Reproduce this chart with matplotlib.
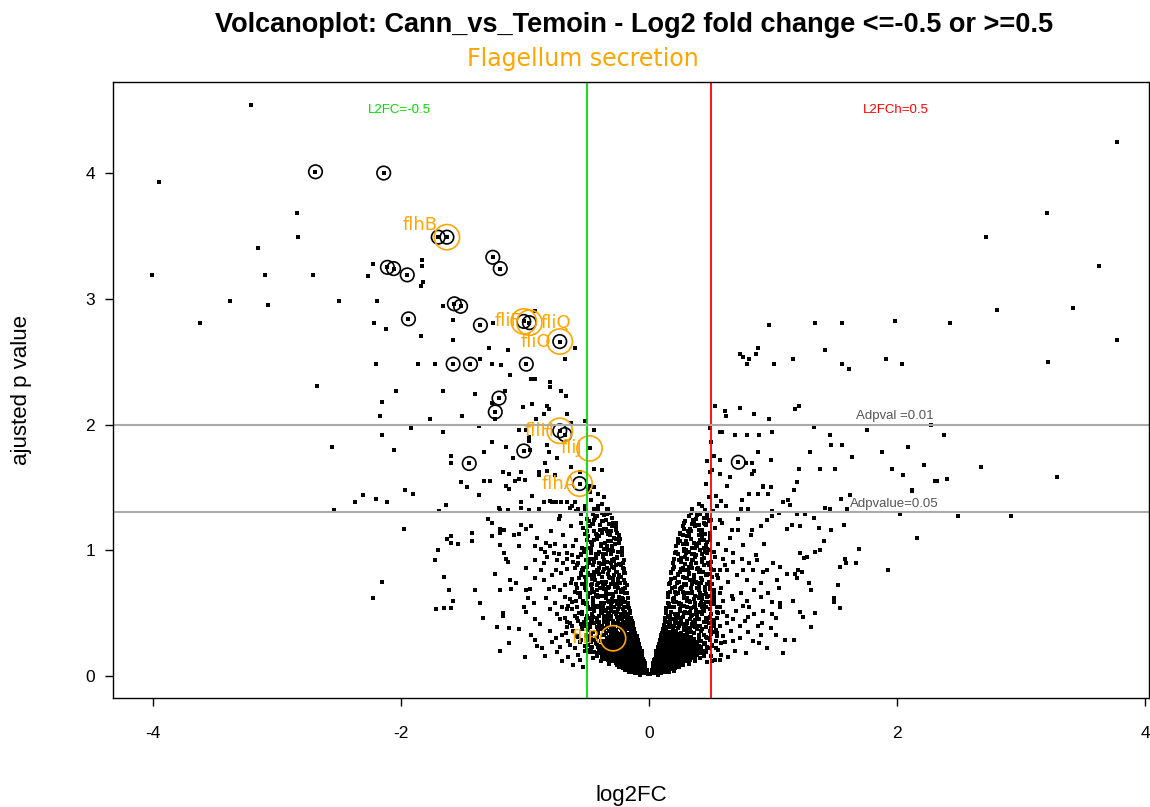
import numpy as np
import matplotlib.pyplot as plt

plt.rcParams['axes.unicode_minus'] = False

# sparse genes on the down-regulated side (log2FC, adjusted p as -log10)
left_sparse = [
    (-3.21, 4.54), (-3.95, 3.93), (-2.69, 4.01), (-2.14, 4.00), (-2.84, 3.68), (-2.83, 3.49),
    (-3.15, 3.40), (-1.70, 3.49), (-1.63, 3.49), (-1.26, 3.33), (-1.20, 3.24), (-2.23, 3.28),
    (-2.11, 3.25), (-2.06, 3.24), (-1.95, 3.19), (-1.83, 3.31), (-1.83, 3.26), (-1.82, 3.13),
    (-1.84, 3.10), (-4.01, 3.19), (-3.10, 3.19), (-2.71, 3.19), (-2.27, 3.18), (-3.38, 2.98),
    (-3.07, 2.95), (-2.50, 2.98), (-2.19, 2.98), (-1.66, 2.94), (-1.57, 2.96), (-1.52, 2.94),
    (-3.62, 2.81), (-2.22, 2.81), (-2.12, 2.76), (-1.94, 2.84), (-1.58, 2.83), (-1.36, 2.79),
    (-1.26, 2.81), (-1.84, 2.70), (-1.58, 2.67), (-1.29, 2.61), (-1.14, 2.59), (-2.20, 2.48),
    (-1.86, 2.48), (-1.73, 2.48), (-1.58, 2.48), (-1.44, 2.48), (-1.36, 2.52), (-1.27, 2.48),
    (-1.19, 2.47), (-1.12, 2.39), (-1.01, 2.82), (-0.965, 2.81), (-0.92, 2.90), (-0.72, 2.66),
    (-0.60, 2.61), (-0.68, 2.52), (-0.99, 2.48), (-0.95, 2.36), (-0.92, 2.36), (-0.80, 2.34),
    (-0.80, 2.30), (-1.66, 2.27), (-1.40, 2.24), (-1.16, 2.27), (-0.71, 2.27), (-0.67, 2.23),
    (-1.21, 2.21), (-1.24, 2.10), (-1.27, 2.17), (-1.02, 2.14), (-0.94, 2.16), (-0.82, 2.15),
    (-0.81, 2.12), (-1.51, 2.07), (-1.24, 2.04), (-0.85, 2.08), (-0.91, 2.04), (-0.66, 2.08),
    (-0.52, 2.03), (-1.77, 2.04), (-1.92, 1.97), (-1.66, 1.94), (-1.37, 1.99), (-1.05, 1.96),
    (-0.99, 1.96), (-0.97, 1.90), (-0.97, 1.87), (-0.72, 1.95), (-0.68, 1.92), (-0.63, 2.01),
    (-0.44, 1.96), (-1.27, 1.86), (-1.15, 1.82), (-1.01, 1.79), (-0.96, 1.80), (-0.82, 1.84),
    (-0.81, 1.78), (-0.74, 1.73), (-1.33, 1.78), (-1.60, 1.75), (-1.60, 1.69), (-1.45, 1.69),
    (-1.10, 1.73), (-0.84, 1.69), (-0.48, 1.81), (-1.18, 1.62), (-1.13, 1.61), (-1.03, 1.62),
    (-0.89, 1.62), (-0.89, 1.60), (-0.82, 1.63), (-0.76, 1.60), (-0.63, 1.66), (-0.56, 1.62),
    (-0.44, 1.65), (-0.38, 1.64), (-1.52, 1.54), (-1.33, 1.55), (-1.28, 1.55), (-1.47, 1.50),
    (-1.37, 1.44), (-1.97, 1.48), (-1.90, 1.45), (-1.15, 1.51), (-1.13, 1.49), (-1.08, 1.55),
    (-1.05, 1.57), (-1.00, 1.56), (-0.56, 1.53), (-0.48, 1.51), (-0.44, 1.50), (-0.48, 1.46),
    (-0.94, 1.43), (-0.85, 1.38), (-0.80, 1.39), (-0.78, 1.38), (-0.75, 1.38), (-0.71, 1.38),
    (-0.66, 1.38), (-0.64, 1.34), (-0.62, 1.35), (-0.60, 1.38), (-0.57, 1.33), (-0.59, 1.31),
    (-0.52, 1.33), (-0.44, 1.33), (-0.41, 1.33), (-0.38, 1.30), (-0.34, 1.33), (-1.69, 1.31),
    (-1.64, 1.36), (-1.21, 1.34), (-1.20, 1.32), (-1.14, 1.32), (-1.03, 1.34), (-1.03, 1.38),
    (-0.97, 1.32), (-0.89, 1.33), (-2.68, 2.31), (-2.04, 2.27), (-2.15, 2.18), (-2.17, 2.07),
    (-2.15, 1.92), (-2.56, 1.82), (-2.06, 1.80), (-2.31, 1.44), (-2.20, 1.41), (-2.11, 1.38),
    (-2.37, 1.38), (-2.54, 1.32), (-1.98, 1.17), (-2.15, 0.75), (-2.23, 0.62),
    (-1.30, 1.25), (-1.27, 1.22), (-1.03, 1.20), (-0.99, 1.17), (-0.95, 1.19), (-0.73, 1.25),
    (-0.72, 1.27), (-1.63, 1.09), (-1.60, 1.11), (-1.60, 1.06), (-1.54, 1.05), (-1.43, 1.14),
    (-1.43, 1.07), (-1.20, 1.14), (-1.20, 1.17), (-1.17, 1.16), (-1.27, 1.11), (-1.09, 1.12),
    (-1.05, 1.13), (-1.70, 1.00), (-1.73, 0.92), (-1.20, 1.04), (-1.17, 0.98), (-1.05, 1.03),
    (-1.14, 0.91), (-1.15, 0.93), (-0.92, 1.03), (-0.87, 1.01), (-0.83, 1.06), (-0.80, 1.03),
    (-0.76, 1.05), (-0.68, 1.03), (-0.61, 1.03), (-0.84, 0.99), (-0.77, 0.98), (-0.66, 0.98),
    (-0.62, 0.96), (-0.55, 0.97), (-0.99, 0.86), (-0.92, 0.92), (-0.85, 0.90), (-0.74, 0.92),
    (-0.75, 0.84), (-0.69, 0.90), (-0.66, 0.85), (-0.61, 0.91), (-0.58, 0.88), (-0.55, 0.82),
    (-0.50, 0.87), (-1.65, 0.79), (-1.61, 0.68), (-1.40, 0.68), (-1.58, 0.60), (-1.72, 0.53),
    (-1.65, 0.54), (-1.60, 0.54), (-1.24, 0.81), (-1.20, 0.68), (-1.12, 0.76), (-1.07, 0.74),
    (-1.11, 0.69), (-0.99, 0.68), (-0.96, 0.69), (-0.92, 0.78), (-0.85, 0.76), (-0.81, 0.69),
    (-0.77, 0.71), (-0.72, 0.68), (-0.68, 0.72), (-0.62, 0.77), (-0.58, 0.70), (-0.54, 0.73),
    (-0.52, 0.79), (-0.51, 0.68), (-1.36, 0.58), (-1.34, 0.46), (-1.18, 0.50), (-1.18, 0.48),
    (-1.23, 0.39), (-1.13, 0.38), (-1.05, 0.37), (-1.01, 0.55), (-0.99, 0.51), (-0.92, 0.45),
    (-0.80, 0.53), (-0.74, 0.49), (-0.70, 0.55), (-0.66, 0.43), (-0.62, 0.53), (-0.58, 0.46),
    (-0.54, 0.50), (-0.51, 0.41), (-1.20, 0.20), (-1.13, 0.26), (-1.00, 0.15), (-0.92, 0.29),
    (-0.90, 0.24), (-0.84, 0.16), (-0.78, 0.27), (-0.74, 0.19), (-0.72, 0.23), (-0.65, 0.15),
    (-0.60, 0.22), (-0.55, 0.29), (-0.53, 0.07), (-0.57, 0.17),
]

# sparse genes on the up-regulated side
right_sparse = [
    (3.77, 4.25), (3.21, 3.68), (2.72, 3.49), (3.63, 3.26), (2.81, 2.91), (3.42, 2.93),
    (0.97, 2.79), (1.34, 2.81), (1.56, 2.81), (1.98, 2.82), (2.43, 2.81), (3.77, 2.67),
    (0.73, 2.56), (0.76, 2.54), (0.79, 2.48), (0.81, 2.52), (0.86, 2.56), (0.88, 2.61),
    (1.01, 2.48), (1.16, 2.52), (1.42, 2.59), (1.56, 2.48), (1.61, 2.44), (1.91, 2.52),
    (2.04, 2.48), (3.22, 2.50), (0.53, 2.15), (0.61, 2.11), (0.62, 2.07), (0.73, 2.13),
    (0.85, 2.08), (0.97, 2.04), (1.21, 2.15), (1.18, 2.12), (0.57, 1.94), (0.59, 1.94),
    (0.69, 1.92), (0.79, 1.92), (0.89, 1.92), (0.99, 1.94), (1.33, 1.98), (1.46, 1.92),
    (1.76, 1.96), (2.27, 2.00), (2.38, 1.92), (0.72, 1.70), (0.52, 1.75), (0.57, 1.72),
    (0.51, 1.64), (0.78, 1.69), (0.83, 1.69), (0.85, 1.63), (0.83, 1.61), (0.98, 1.72),
    (0.88, 1.78), (1.30, 1.78), (1.47, 1.84), (1.56, 1.84), (1.21, 1.65), (1.38, 1.65),
    (1.50, 1.65), (1.64, 1.74), (1.88, 1.78), (2.09, 1.82), (1.96, 1.65), (2.22, 1.68),
    (2.05, 1.60), (2.31, 1.55), (2.40, 1.57), (2.68, 1.66), (3.29, 1.58), (2.12, 1.48),
    (1.19, 1.54), (1.17, 1.48), (0.92, 1.50), (0.98, 1.50), (0.88, 1.45), (0.81, 1.45),
    (0.63, 1.51), (0.65, 1.58), (0.54, 1.43), (0.58, 1.39), (0.55, 1.35), (0.62, 1.35),
    (0.75, 1.40), (0.74, 1.33), (0.80, 1.33), (1.12, 1.40), (1.14, 1.36), (0.99, 1.31),
    (1.05, 1.30), (1.62, 1.44), (1.55, 1.41), (1.60, 1.33), (1.42, 1.34), (1.46, 1.33),
    (2.49, 1.27), (2.92, 1.27), (2.16, 1.10), (2.02, 1.29), (1.93, 0.84), (1.69, 1.01),
    (1.67, 0.90), (1.59, 0.90), (1.57, 1.20), (1.47, 1.16), (1.37, 1.18), (1.33, 1.26),
    (1.26, 1.29), (1.19, 1.29), (2.05, 1.60), (2.32, 1.55), (2.12, 1.47), (0.57, 1.61),
    (0.83, 1.61), (0.96, 1.45), (0.92, 1.51), (1.08, 1.38), (0.57, 1.24), (0.67, 1.16),
    (0.72, 1.16), (0.83, 1.16), (0.90, 1.19), (0.95, 1.24), (0.99, 1.27), (1.11, 1.17),
    (1.15, 1.20), (1.22, 1.19), (1.41, 1.07), (1.54, 0.87), (1.58, 0.93), (1.38, 1.00),
    (1.34, 0.99), (1.22, 0.98), (1.27, 0.95), (1.25, 0.94), (1.20, 0.84), (1.23, 0.83),
    (1.18, 0.81), (1.06, 0.87), (0.95, 0.84), (0.87, 0.92), (0.81, 0.90), (0.75, 0.93),
    (0.68, 0.91), (0.60, 0.93), (0.57, 0.84), (0.63, 0.84), (0.76, 0.84), (0.84, 0.84),
    (0.92, 0.83), (1.03, 0.76), (1.11, 0.81), (1.19, 0.78), (1.29, 0.74), (1.31, 0.68),
    (1.34, 0.50), (1.22, 0.51), (1.24, 0.47), (1.16, 0.60), (1.06, 0.55), (0.99, 0.49),
    (0.91, 0.42), (0.85, 0.49), (0.80, 0.47), (0.73, 0.40), (0.68, 0.45), (0.63, 0.42),
    (0.60, 0.32), (0.68, 0.28), (0.80, 0.35), (0.90, 0.33), (0.89, 0.26), (1.02, 0.33),
    (1.10, 0.29), (1.17, 0.29), (1.31, 0.39), (1.49, 0.62), (1.49, 0.59), (1.54, 0.54),
    (1.52, 0.72), (0.68, 0.61), (0.79, 0.60), (0.76, 0.56), (0.90, 0.63), (0.99, 0.59),
    (1.06, 0.58), (0.57, 0.55), (0.60, 0.51), (0.56, 0.21), (0.57, 0.13), (0.48, 1.42),
    (0.46, 1.53), (0.49, 1.62), (0.47, 1.71), (0.50, 1.86), (0.49, 1.97),
]

# dense core near log2FC = 0, left arm
core_left = [
    (-0.02, 0.02), (-0.04, 0.035), (-0.06, 0.05), (-0.09, 0.04), (-0.12, 0.065), (-0.15, 0.05),
    (-0.18, 0.085), (-0.21, 0.07), (-0.24, 0.095), (-0.07, 0.08), (-0.105, 0.092), (-0.13, 0.10),
    (-0.165, 0.03), (-0.27, 0.10), (-0.03, 0.06), (-0.05, 0.09), (-0.11, 0.025), (-0.19, 0.045),
    (-0.04, 0.12), (-0.06, 0.155), (-0.085, 0.18), (-0.10, 0.13), (-0.12, 0.172), (-0.14, 0.11),
    (-0.16, 0.195), (-0.18, 0.14), (-0.205, 0.12), (-0.22, 0.18), (-0.245, 0.15), (-0.26, 0.11),
    (-0.28, 0.19), (-0.30, 0.16), (-0.33, 0.13), (-0.36, 0.18), (-0.39, 0.12), (-0.42, 0.17),
    (-0.45, 0.14), (-0.09, 0.20), (-0.135, 0.145), (-0.17, 0.16), (-0.21, 0.20), (-0.25, 0.13),
    (-0.29, 0.125), (-0.34, 0.20), (-0.38, 0.15), (-0.48, 0.19), (-0.07, 0.11), (-0.115, 0.16),
    (-0.07, 0.22), (-0.09, 0.26), (-0.11, 0.29), (-0.13, 0.23), (-0.15, 0.27), (-0.17, 0.21),
    (-0.19, 0.25), (-0.21, 0.29), (-0.23, 0.23), (-0.25, 0.27), (-0.27, 0.21), (-0.29, 0.26),
    (-0.31, 0.29), (-0.33, 0.22), (-0.35, 0.25), (-0.37, 0.28), (-0.40, 0.21), (-0.43, 0.26),
    (-0.46, 0.23), (-0.49, 0.29), (-0.52, 0.24), (-0.56, 0.27), (-0.12, 0.25), (-0.16, 0.30),
    (-0.20, 0.22), (-0.24, 0.30), (-0.28, 0.24), (-0.32, 0.27), (-0.38, 0.23), (-0.44, 0.29),
    (-0.50, 0.21), (-0.60, 0.22), (-0.65, 0.28), (-0.10, 0.32), (-0.12, 0.36), (-0.14, 0.39),
    (-0.16, 0.33), (-0.18, 0.37), (-0.20, 0.31), (-0.22, 0.35), (-0.24, 0.39), (-0.26, 0.34),
    (-0.28, 0.38), (-0.30, 0.32), (-0.32, 0.36), (-0.34, 0.40), (-0.36, 0.33), (-0.39, 0.37),
    (-0.42, 0.31), (-0.45, 0.35), (-0.48, 0.39), (-0.51, 0.33), (-0.54, 0.37), (-0.57, 0.31),
    (-0.61, 0.36), (-0.66, 0.39), (-0.70, 0.33), (-0.17, 0.40), (-0.23, 0.32), (-0.29, 0.35),
    (-0.35, 0.38), (-0.41, 0.34), (-0.47, 0.32), (-0.53, 0.40), (-0.13, 0.42), (-0.15, 0.46),
    (-0.17, 0.49), (-0.19, 0.43), (-0.21, 0.47), (-0.23, 0.41), (-0.25, 0.45), (-0.27, 0.49),
    (-0.29, 0.44), (-0.31, 0.48), (-0.33, 0.42), (-0.36, 0.46), (-0.39, 0.50), (-0.42, 0.43),
    (-0.45, 0.47), (-0.48, 0.41), (-0.51, 0.45), (-0.54, 0.49), (-0.57, 0.44), (-0.60, 0.48),
    (-0.64, 0.42), (-0.68, 0.46), (-0.20, 0.50), (-0.26, 0.42), (-0.34, 0.45), (-0.40, 0.48),
    (-0.47, 0.44), (-0.55, 0.41), (-0.15, 0.52), (-0.17, 0.56), (-0.19, 0.59), (-0.21, 0.53),
    (-0.23, 0.57), (-0.26, 0.51), (-0.28, 0.55), (-0.30, 0.59), (-0.33, 0.54), (-0.36, 0.58),
    (-0.39, 0.52), (-0.42, 0.56), (-0.45, 0.60), (-0.48, 0.53), (-0.51, 0.57), (-0.54, 0.51),
    (-0.58, 0.55), (-0.62, 0.59), (-0.66, 0.53), (-0.24, 0.60), (-0.31, 0.52), (-0.40, 0.55),
    (-0.50, 0.58), (-0.17, 0.62), (-0.19, 0.66), (-0.21, 0.69), (-0.24, 0.63), (-0.27, 0.67),
    (-0.30, 0.61), (-0.33, 0.65), (-0.36, 0.69), (-0.39, 0.64), (-0.42, 0.68), (-0.45, 0.62),
    (-0.48, 0.66), (-0.52, 0.70), (-0.56, 0.63), (-0.60, 0.67), (-0.64, 0.61), (-0.25, 0.70),
    (-0.35, 0.62), (-0.44, 0.67), (-0.18, 0.72), (-0.20, 0.76), (-0.23, 0.79), (-0.26, 0.73),
    (-0.29, 0.77), (-0.32, 0.71), (-0.35, 0.75), (-0.38, 0.79), (-0.41, 0.74), (-0.44, 0.78),
    (-0.47, 0.72), (-0.51, 0.76), (-0.55, 0.80), (-0.59, 0.73), (-0.28, 0.80), (-0.37, 0.72),
    (-0.46, 0.77), (-0.19, 0.82), (-0.21, 0.86), (-0.24, 0.89), (-0.27, 0.83), (-0.30, 0.87),
    (-0.33, 0.81), (-0.36, 0.85), (-0.39, 0.89), (-0.42, 0.84), (-0.45, 0.88), (-0.49, 0.82),
    (-0.53, 0.86), (-0.57, 0.90), (-0.31, 0.90), (-0.40, 0.81), (-0.20, 0.92), (-0.22, 0.96),
    (-0.25, 0.99), (-0.28, 0.93), (-0.31, 0.97), (-0.34, 0.91), (-0.37, 0.95), (-0.40, 0.99),
    (-0.43, 0.94), (-0.47, 0.98), (-0.51, 0.92), (-0.55, 0.96), (-0.33, 1.00), (-0.22, 1.02),
    (-0.24, 1.06), (-0.27, 1.09), (-0.30, 1.03), (-0.33, 1.07), (-0.36, 1.01), (-0.39, 1.05),
    (-0.42, 1.09), (-0.46, 1.04), (-0.50, 1.08), (-0.54, 1.02), (-0.24, 1.12), (-0.27, 1.16),
    (-0.30, 1.19), (-0.33, 1.13), (-0.36, 1.17), (-0.40, 1.11), (-0.44, 1.15), (-0.48, 1.19),
    (-0.52, 1.13), (-0.27, 1.22), (-0.30, 1.26), (-0.34, 1.29), (-0.38, 1.23), (-0.42, 1.27),
    (-0.46, 1.21), (-0.50, 1.25), (-0.55, 1.29), (-0.33, 1.33), (-0.38, 1.37), (-0.43, 1.32),
    (-0.47, 1.40), (-0.52, 1.35), (-0.41, 1.45), (-0.49, 1.48), (-0.36, 1.42),
]

core_left2 = [
    (-0.01, 0.015), (-0.04, 0.026), (-0.07, 0.010), (-0.10, 0.021),
    (-0.02, 0.045), (-0.05, 0.056), (-0.085, 0.036), (-0.12, 0.051), (-0.155, 0.033), (-0.19, 0.054),
    (-0.03, 0.075), (-0.065, 0.086), (-0.10, 0.066), (-0.135, 0.081), (-0.17, 0.063), (-0.205, 0.084),
    (-0.24, 0.071), (-0.035, 0.105), (-0.07, 0.116), (-0.105, 0.096), (-0.14, 0.111), (-0.175, 0.093),
    (-0.21, 0.114), (-0.245, 0.101), (-0.28, 0.118), (-0.32, 0.095), (-0.045, 0.135), (-0.08, 0.146),
    (-0.115, 0.126), (-0.15, 0.141), (-0.185, 0.123), (-0.22, 0.144), (-0.255, 0.131), (-0.29, 0.148),
    (-0.325, 0.125), (-0.36, 0.138), (-0.055, 0.165), (-0.09, 0.176), (-0.125, 0.156), (-0.16, 0.171),
    (-0.195, 0.153), (-0.23, 0.174), (-0.265, 0.161), (-0.30, 0.178), (-0.34, 0.155), (-0.38, 0.168),
    (-0.42, 0.159), (-0.06, 0.195), (-0.095, 0.206), (-0.13, 0.186), (-0.165, 0.201), (-0.20, 0.183),
    (-0.235, 0.204), (-0.27, 0.191), (-0.31, 0.208), (-0.35, 0.185), (-0.39, 0.198), (-0.44, 0.189),
    (-0.07, 0.225), (-0.105, 0.236), (-0.14, 0.216), (-0.175, 0.231), (-0.21, 0.213), (-0.245, 0.234),
    (-0.28, 0.221), (-0.32, 0.238), (-0.36, 0.215), (-0.41, 0.228), (-0.47, 0.219), (-0.08, 0.255),
    (-0.115, 0.266), (-0.15, 0.246), (-0.185, 0.261), (-0.22, 0.243), (-0.255, 0.264), (-0.29, 0.251),
    (-0.33, 0.268), (-0.37, 0.245), (-0.42, 0.258), (-0.49, 0.249), (-0.09, 0.285), (-0.125, 0.296),
    (-0.16, 0.276), (-0.195, 0.291), (-0.23, 0.273), (-0.265, 0.294), (-0.30, 0.281), (-0.34, 0.298),
    (-0.39, 0.275), (-0.45, 0.288), (-0.10, 0.315), (-0.135, 0.326), (-0.17, 0.306), (-0.205, 0.321),
    (-0.24, 0.303), (-0.28, 0.324), (-0.32, 0.311), (-0.37, 0.328), (-0.43, 0.305), (-0.50, 0.318),
    (-0.11, 0.345), (-0.145, 0.356), (-0.18, 0.336), (-0.22, 0.351), (-0.26, 0.333), (-0.30, 0.354),
    (-0.35, 0.341), (-0.41, 0.358), (-0.47, 0.335), (-0.12, 0.375), (-0.155, 0.386), (-0.19, 0.366),
    (-0.23, 0.381), (-0.27, 0.363), (-0.31, 0.384), (-0.36, 0.371), (-0.42, 0.388), (-0.49, 0.365),
    (-0.13, 0.405), (-0.165, 0.416), (-0.20, 0.396), (-0.24, 0.411), (-0.28, 0.393), (-0.33, 0.414),
    (-0.38, 0.401), (-0.44, 0.418), (-0.52, 0.395), (-0.14, 0.435), (-0.175, 0.446), (-0.21, 0.426),
    (-0.25, 0.441), (-0.29, 0.423), (-0.34, 0.444), (-0.40, 0.431), (-0.46, 0.448), (-0.145, 0.465),
    (-0.18, 0.476), (-0.22, 0.456), (-0.26, 0.471), (-0.31, 0.453), (-0.36, 0.474), (-0.42, 0.461),
    (-0.50, 0.478), (-0.15, 0.50), (-0.19, 0.511), (-0.23, 0.491), (-0.28, 0.506), (-0.33, 0.488),
    (-0.39, 0.509), (-0.46, 0.496), (-0.16, 0.54), (-0.20, 0.551), (-0.25, 0.531), (-0.30, 0.546),
    (-0.36, 0.528), (-0.43, 0.549), (-0.17, 0.58), (-0.21, 0.591), (-0.26, 0.571), (-0.32, 0.586),
    (-0.38, 0.568), (-0.45, 0.589), (-0.18, 0.66), (-0.23, 0.671), (-0.29, 0.651), (-0.35, 0.666),
    (-0.42, 0.648), (-0.19, 0.74), (-0.25, 0.751), (-0.31, 0.731), (-0.38, 0.746), (-0.46, 0.728),
    (-0.20, 0.82), (-0.26, 0.831), (-0.33, 0.811), (-0.41, 0.826), (-0.21, 0.90), (-0.28, 0.911),
    (-0.36, 0.891), (-0.44, 0.906), (-0.22, 0.98), (-0.29, 0.991), (-0.37, 0.971), (-0.24, 1.06),
    (-0.31, 1.071), (-0.39, 1.051), (-0.47, 1.066), (-0.26, 1.14), (-0.34, 1.151), (-0.43, 1.131),
    (-0.29, 1.22), (-0.37, 1.231), (-0.45, 1.211),
    (-0.025, 0.03), (-0.055, 0.034), (-0.09, 0.027), (-0.125, 0.031), (-0.16, 0.029),
    (-0.035, 0.06), (-0.07, 0.064), (-0.105, 0.057), (-0.14, 0.062), (-0.175, 0.058), (-0.21, 0.063),
    (-0.045, 0.09), (-0.08, 0.094), (-0.12, 0.087), (-0.155, 0.092), (-0.19, 0.088), (-0.225, 0.093),
    (-0.26, 0.089), (-0.05, 0.12), (-0.09, 0.124), (-0.125, 0.117), (-0.16, 0.122), (-0.195, 0.118),
    (-0.23, 0.123), (-0.27, 0.119), (-0.31, 0.122), (-0.06, 0.15), (-0.10, 0.154), (-0.135, 0.147),
    (-0.17, 0.152), (-0.205, 0.148), (-0.24, 0.153), (-0.28, 0.149), (-0.32, 0.152), (-0.36, 0.147),
    (-0.07, 0.18), (-0.11, 0.184), (-0.145, 0.177), (-0.18, 0.182), (-0.215, 0.178), (-0.25, 0.183),
    (-0.29, 0.179), (-0.33, 0.182), (-0.37, 0.177), (-0.41, 0.181), (-0.075, 0.21), (-0.115, 0.214),
    (-0.15, 0.207), (-0.19, 0.212), (-0.225, 0.208), (-0.26, 0.213), (-0.30, 0.209), (-0.34, 0.212),
    (-0.39, 0.207), (-0.085, 0.24), (-0.125, 0.244), (-0.16, 0.237), (-0.20, 0.242), (-0.235, 0.238),
    (-0.27, 0.243), (-0.31, 0.239), (-0.35, 0.242), (-0.40, 0.237), (-0.095, 0.27), (-0.135, 0.274),
    (-0.17, 0.267), (-0.21, 0.272), (-0.245, 0.268), (-0.28, 0.273), (-0.32, 0.269), (-0.36, 0.272),
    (-0.105, 0.30), (-0.145, 0.304), (-0.18, 0.297), (-0.22, 0.302), (-0.255, 0.298), (-0.29, 0.303),
    (-0.33, 0.299), (-0.115, 0.33), (-0.155, 0.334), (-0.19, 0.327), (-0.23, 0.332), (-0.27, 0.328),
    (-0.31, 0.333),
]

# extra genes in the left shoulder (log2FC -1 .. -0.2)
core_left3 = [
    (-0.98, 0.62), (-0.95, 0.33), (-0.93, 0.58), (-0.90, 1.10), (-0.88, 0.41), (-0.87, 0.84),
    (-0.86, 0.22), (-0.83, 0.62), (-0.82, 0.95), (-0.80, 0.36), (-0.79, 1.15), (-0.78, 0.80),
    (-0.76, 0.58), (-0.75, 0.30), (-0.73, 0.97), (-0.72, 0.45), (-0.71, 0.82), (-0.70, 0.12),
    (-0.69, 1.12), (-0.68, 0.63), (-0.67, 0.34), (-0.66, 0.93), (-0.65, 0.56), (-0.64, 0.25),
    (-0.63, 1.19), (-0.63, 0.74), (-0.62, 0.40), (-0.61, 0.09), (-0.60, 0.86), (-0.59, 0.60),
    (-0.59, 1.08), (-0.58, 0.32), (-0.57, 0.95), (-0.56, 0.66), (-0.56, 0.13), (-0.55, 1.22),
    (-0.54, 0.38), (-0.54, 0.84), (-0.53, 0.58), (-0.52, 1.01), (-0.52, 0.20), (-0.51, 0.75),
    (-0.50, 0.47), (-0.50, 1.15), (-0.49, 0.63), (-0.48, 0.93), (-0.47, 0.27), (-0.46, 1.05),
    (-0.45, 0.55), (-0.44, 0.80), (-0.43, 0.64), (-0.41, 0.97), (-0.39, 0.58), (-0.38, 1.14),
    (-0.37, 0.83), (-0.35, 0.52), (-0.34, 1.03), (-0.33, 0.70), (-0.32, 1.21), (-0.31, 0.56),
    (-0.30, 0.92), (-0.29, 0.74), (-0.28, 1.10), (-0.27, 0.60), (-0.26, 0.95), (-0.25, 0.77),
    (-0.24, 0.55), (-0.23, 0.88), (-0.22, 0.68), (-0.21, 0.61), (-0.44, 1.24), (-0.42, 0.72),
    (-0.40, 0.90), (-0.36, 0.64), (-0.34, 0.86), (-0.31, 1.00), (-0.29, 0.64), (-0.27, 0.88),
    (-0.48, 1.02), (-0.46, 0.69), (-0.45, 0.93), (-0.49, 0.55), (-0.42, 1.12), (-0.38, 0.50),
    (-0.35, 1.17), (-0.32, 0.79),
]

core_left4 = [
    (-0.165, 0.43), (-0.205, 0.39), (-0.245, 0.47), (-0.285, 0.41), (-0.325, 0.50), (-0.365, 0.43),
    (-0.405, 0.40), (-0.445, 0.52), (-0.485, 0.46), (-0.525, 0.43), (-0.565, 0.50), (-0.175, 0.55),
    (-0.215, 0.62), (-0.255, 0.57), (-0.295, 0.65), (-0.335, 0.60), (-0.375, 0.55), (-0.415, 0.63),
    (-0.455, 0.57), (-0.495, 0.64), (-0.535, 0.60), (-0.575, 0.66), (-0.195, 0.70), (-0.235, 0.74),
    (-0.275, 0.71), (-0.315, 0.78), (-0.355, 0.73), (-0.395, 0.70), (-0.435, 0.76), (-0.475, 0.80),
    (-0.515, 0.73), (-0.565, 0.78), (-0.205, 0.85), (-0.245, 0.80), (-0.285, 0.86), (-0.325, 0.84),
    (-0.365, 0.92), (-0.405, 0.86), (-0.445, 0.83), (-0.485, 0.90), (-0.535, 0.84), (-0.215, 0.99),
    (-0.255, 0.94), (-0.295, 1.00), (-0.345, 0.97), (-0.385, 1.03), (-0.425, 0.97), (-0.465, 1.01),
    (-0.525, 0.99), (-0.235, 1.09), (-0.275, 1.05), (-0.315, 1.12), (-0.355, 1.06), (-0.395, 1.16),
    (-0.445, 1.08), (-0.495, 1.11), (-0.265, 1.19), (-0.305, 1.15), (-0.345, 1.24), (-0.395, 1.20),
    (-0.435, 1.26), (-0.485, 1.23), (-0.535, 1.18), (-0.315, 1.30), (-0.365, 1.28), (-0.415, 1.35),
    (-0.455, 1.29), (-0.505, 1.31),
]

# dense core, right arm
core_right = [
    (0.02, 0.02), (0.04, 0.04), (0.07, 0.03), (0.09, 0.06), (0.12, 0.05), (0.15, 0.08),
    (0.18, 0.06), (0.21, 0.09), (0.24, 0.07), (0.06, 0.08), (0.11, 0.10), (0.14, 0.03),
    (0.17, 0.10), (0.27, 0.09), (0.03, 0.07), (0.08, 0.09), (0.20, 0.04), (0.04, 0.13),
    (0.06, 0.17), (0.08, 0.11), (0.10, 0.15), (0.12, 0.19), (0.14, 0.12), (0.16, 0.16),
    (0.18, 0.20), (0.20, 0.13), (0.22, 0.17), (0.24, 0.11), (0.26, 0.15), (0.29, 0.19),
    (0.32, 0.12), (0.35, 0.16), (0.38, 0.20), (0.41, 0.14), (0.44, 0.18), (0.47, 0.11),
    (0.50, 0.16), (0.09, 0.19), (0.13, 0.14), (0.19, 0.18), (0.25, 0.20), (0.31, 0.14),
    (0.37, 0.12), (0.45, 0.20), (0.53, 0.13), (0.07, 0.23), (0.09, 0.27), (0.11, 0.21),
    (0.13, 0.25), (0.15, 0.29), (0.17, 0.22), (0.19, 0.26), (0.21, 0.30), (0.23, 0.24),
    (0.25, 0.28), (0.27, 0.21), (0.30, 0.25), (0.33, 0.29), (0.36, 0.23), (0.39, 0.27),
    (0.42, 0.21), (0.45, 0.26), (0.48, 0.30), (0.51, 0.24), (0.54, 0.28), (0.14, 0.30),
    (0.20, 0.21), (0.26, 0.25), (0.32, 0.22), (0.40, 0.30), (0.47, 0.23), (0.58, 0.26),
    (0.10, 0.33), (0.12, 0.37), (0.14, 0.31), (0.16, 0.35), (0.18, 0.39), (0.20, 0.32),
    (0.22, 0.36), (0.24, 0.40), (0.26, 0.34), (0.28, 0.38), (0.31, 0.31), (0.34, 0.35),
    (0.37, 0.39), (0.40, 0.33), (0.43, 0.37), (0.46, 0.31), (0.49, 0.36), (0.52, 0.40),
    (0.55, 0.34), (0.19, 0.36), (0.27, 0.32), (0.35, 0.40), (0.44, 0.33), (0.50, 0.38),
    (0.13, 0.43), (0.15, 0.47), (0.17, 0.41), (0.19, 0.45), (0.21, 0.49), (0.23, 0.42),
    (0.25, 0.46), (0.28, 0.50), (0.31, 0.44), (0.34, 0.48), (0.37, 0.41), (0.40, 0.45),
    (0.43, 0.49), (0.46, 0.43), (0.49, 0.47), (0.52, 0.41), (0.55, 0.46), (0.22, 0.47),
    (0.30, 0.41), (0.38, 0.49), (0.47, 0.44), (0.14, 0.53), (0.16, 0.57), (0.18, 0.51),
    (0.20, 0.55), (0.22, 0.59), (0.25, 0.52), (0.28, 0.56), (0.31, 0.60), (0.34, 0.54),
    (0.37, 0.58), (0.40, 0.51), (0.43, 0.55), (0.46, 0.59), (0.49, 0.53), (0.52, 0.57),
    (0.55, 0.51), (0.24, 0.58), (0.33, 0.51), (0.42, 0.58), (0.15, 0.63), (0.17, 0.67),
    (0.19, 0.61), (0.22, 0.65), (0.25, 0.69), (0.28, 0.62), (0.31, 0.66), (0.34, 0.70),
    (0.37, 0.64), (0.40, 0.68), (0.43, 0.61), (0.46, 0.65), (0.49, 0.69), (0.52, 0.63),
    (0.27, 0.67), (0.36, 0.61), (0.45, 0.68), (0.16, 0.73), (0.18, 0.77), (0.21, 0.71),
    (0.24, 0.75), (0.27, 0.79), (0.30, 0.72), (0.33, 0.76), (0.36, 0.80), (0.39, 0.74),
    (0.42, 0.78), (0.45, 0.71), (0.48, 0.75), (0.51, 0.79), (0.29, 0.78), (0.40, 0.71),
    (0.18, 0.83), (0.20, 0.87), (0.23, 0.81), (0.26, 0.85), (0.29, 0.89), (0.32, 0.82),
    (0.35, 0.86), (0.38, 0.90), (0.41, 0.84), (0.44, 0.88), (0.47, 0.81), (0.50, 0.85),
    (0.28, 0.84), (0.20, 0.93), (0.23, 0.97), (0.26, 0.91), (0.29, 0.95), (0.32, 0.99),
    (0.35, 0.92), (0.38, 0.96), (0.41, 1.00), (0.44, 0.94), (0.47, 0.98), (0.50, 0.91),
    (0.31, 0.93), (0.22, 1.03), (0.25, 1.07), (0.28, 1.01), (0.31, 1.05), (0.34, 1.09),
    (0.37, 1.02), (0.40, 1.06), (0.43, 1.10), (0.46, 1.04), (0.49, 1.08), (0.25, 1.13),
    (0.28, 1.17), (0.31, 1.11), (0.34, 1.15), (0.37, 1.19), (0.40, 1.12), (0.43, 1.16),
    (0.46, 1.20), (0.49, 1.14), (0.29, 1.23), (0.32, 1.27), (0.35, 1.21), (0.38, 1.25),
    (0.41, 1.29), (0.44, 1.22), (0.47, 1.26), (0.50, 1.24), (0.35, 1.33), (0.40, 1.37),
    (0.45, 1.32),
]

core_right2 = [
    (0.01, 0.015), (0.04, 0.026), (0.07, 0.010), (0.10, 0.021),
    (0.02, 0.045), (0.05, 0.056), (0.085, 0.036), (0.12, 0.051), (0.155, 0.033), (0.19, 0.054),
    (0.03, 0.075), (0.065, 0.086), (0.10, 0.066), (0.135, 0.081), (0.17, 0.063), (0.205, 0.084),
    (0.24, 0.071), (0.035, 0.105), (0.07, 0.116), (0.105, 0.096), (0.14, 0.111), (0.175, 0.093),
    (0.21, 0.114), (0.245, 0.101), (0.28, 0.118), (0.32, 0.095), (0.045, 0.135), (0.08, 0.146),
    (0.115, 0.126), (0.15, 0.141), (0.185, 0.123), (0.22, 0.144), (0.255, 0.131), (0.29, 0.148),
    (0.33, 0.125), (0.37, 0.138), (0.055, 0.165), (0.09, 0.176), (0.125, 0.156), (0.16, 0.171),
    (0.195, 0.153), (0.23, 0.174), (0.265, 0.161), (0.30, 0.178), (0.34, 0.155), (0.39, 0.168),
    (0.44, 0.159), (0.06, 0.195), (0.095, 0.206), (0.13, 0.186), (0.165, 0.201), (0.20, 0.183),
    (0.235, 0.204), (0.27, 0.191), (0.31, 0.208), (0.35, 0.185), (0.40, 0.198), (0.46, 0.189),
    (0.07, 0.225), (0.105, 0.236), (0.14, 0.216), (0.175, 0.231), (0.21, 0.213), (0.245, 0.234),
    (0.28, 0.221), (0.32, 0.238), (0.37, 0.215), (0.42, 0.228), (0.48, 0.219), (0.08, 0.255),
    (0.115, 0.266), (0.15, 0.246), (0.185, 0.261), (0.22, 0.243), (0.255, 0.264), (0.29, 0.251),
    (0.33, 0.268), (0.38, 0.245), (0.44, 0.258), (0.51, 0.249), (0.09, 0.285), (0.125, 0.296),
    (0.16, 0.276), (0.195, 0.291), (0.23, 0.273), (0.27, 0.294), (0.31, 0.281), (0.36, 0.298),
    (0.42, 0.275), (0.49, 0.288), (0.10, 0.315), (0.135, 0.326), (0.17, 0.306), (0.21, 0.321),
    (0.25, 0.303), (0.29, 0.324), (0.34, 0.311), (0.40, 0.328), (0.47, 0.305), (0.55, 0.318),
    (0.105, 0.345), (0.14, 0.356), (0.18, 0.336), (0.22, 0.351), (0.26, 0.333), (0.31, 0.354),
    (0.36, 0.341), (0.42, 0.358), (0.50, 0.335), (0.11, 0.375), (0.15, 0.386), (0.19, 0.366),
    (0.23, 0.381), (0.28, 0.363), (0.33, 0.384), (0.39, 0.371), (0.46, 0.388), (0.54, 0.365),
    (0.12, 0.405), (0.16, 0.416), (0.20, 0.396), (0.25, 0.411), (0.30, 0.393), (0.35, 0.414),
    (0.41, 0.401), (0.48, 0.418), (0.125, 0.435), (0.165, 0.446), (0.21, 0.426), (0.26, 0.441),
    (0.31, 0.423), (0.37, 0.444), (0.44, 0.431), (0.52, 0.448), (0.13, 0.465), (0.17, 0.476),
    (0.22, 0.456), (0.27, 0.471), (0.33, 0.453), (0.39, 0.474), (0.46, 0.461), (0.135, 0.50),
    (0.18, 0.511), (0.23, 0.491), (0.29, 0.506), (0.35, 0.488), (0.42, 0.509), (0.50, 0.496),
    (0.14, 0.54), (0.19, 0.551), (0.25, 0.531), (0.31, 0.546), (0.38, 0.528), (0.46, 0.549),
    (0.15, 0.58), (0.20, 0.591), (0.26, 0.571), (0.33, 0.586), (0.41, 0.568), (0.49, 0.589),
    (0.155, 0.66), (0.21, 0.671), (0.28, 0.651), (0.35, 0.666), (0.43, 0.648), (0.52, 0.663),
    (0.165, 0.74), (0.23, 0.751), (0.30, 0.731), (0.38, 0.746), (0.47, 0.728), (0.18, 0.82),
    (0.25, 0.831), (0.32, 0.811), (0.40, 0.826), (0.49, 0.808), (0.19, 0.90), (0.26, 0.911),
    (0.34, 0.891), (0.43, 0.906), (0.21, 0.98), (0.28, 0.991), (0.36, 0.971), (0.45, 0.986),
    (0.23, 1.06), (0.30, 1.071), (0.38, 1.051), (0.47, 1.066), (0.25, 1.14), (0.33, 1.151),
    (0.42, 1.131), (0.28, 1.22), (0.36, 1.231), (0.45, 1.211),
    (0.025, 0.03), (0.055, 0.034), (0.09, 0.027), (0.125, 0.031), (0.16, 0.029),
    (0.035, 0.06), (0.07, 0.064), (0.105, 0.057), (0.14, 0.062), (0.175, 0.058), (0.21, 0.063),
    (0.045, 0.09), (0.08, 0.094), (0.12, 0.087), (0.155, 0.092), (0.19, 0.088), (0.225, 0.093),
    (0.26, 0.089), (0.05, 0.12), (0.09, 0.124), (0.125, 0.117), (0.16, 0.122), (0.195, 0.118),
    (0.23, 0.123), (0.27, 0.119), (0.31, 0.122), (0.06, 0.15), (0.10, 0.154), (0.135, 0.147),
    (0.17, 0.152), (0.205, 0.148), (0.24, 0.153), (0.28, 0.149), (0.32, 0.152), (0.36, 0.147),
    (0.07, 0.18), (0.11, 0.184), (0.145, 0.177), (0.18, 0.182), (0.215, 0.178), (0.25, 0.183),
    (0.29, 0.179), (0.33, 0.182), (0.37, 0.177), (0.41, 0.181), (0.075, 0.21), (0.115, 0.214),
    (0.15, 0.207), (0.19, 0.212), (0.225, 0.208), (0.26, 0.213), (0.30, 0.209), (0.34, 0.212),
    (0.39, 0.207), (0.085, 0.24), (0.125, 0.244), (0.16, 0.237), (0.20, 0.242), (0.235, 0.238),
    (0.27, 0.243), (0.31, 0.239), (0.35, 0.242), (0.40, 0.237), (0.095, 0.27), (0.135, 0.274),
    (0.17, 0.267), (0.21, 0.272), (0.245, 0.268), (0.28, 0.273), (0.32, 0.269), (0.36, 0.272),
    (0.105, 0.30), (0.145, 0.304), (0.18, 0.297), (0.22, 0.302), (0.255, 0.298), (0.29, 0.303),
    (0.33, 0.299), (0.115, 0.33), (0.155, 0.334), (0.19, 0.327), (0.23, 0.332), (0.27, 0.328),
    (0.31, 0.333),
]

# extra genes in the right shoulder (log2FC 0.2 .. 1.1)
core_right3 = [
    (0.19, 0.60), (0.21, 0.78), (0.23, 0.66), (0.24, 0.92), (0.26, 0.56), (0.27, 1.12),
    (0.28, 0.73), (0.30, 0.98), (0.31, 0.62), (0.32, 0.87), (0.33, 1.17), (0.34, 0.66),
    (0.35, 1.02), (0.36, 0.77), (0.37, 0.55), (0.38, 1.20), (0.39, 0.85), (0.40, 0.62),
    (0.41, 1.08), (0.42, 0.74), (0.43, 0.93), (0.44, 0.52), (0.45, 1.13), (0.46, 0.80),
    (0.47, 0.63), (0.48, 1.00), (0.49, 0.72), (0.50, 0.57), (0.26, 0.70), (0.29, 1.05),
    (0.33, 0.59), (0.37, 0.95), (0.41, 0.66), (0.44, 1.02), (0.48, 0.88), (0.35, 0.74),
    (0.51, 0.12), (0.52, 0.35), (0.52, 0.68), (0.53, 0.95), (0.53, 1.18), (0.54, 0.22),
    (0.55, 0.55), (0.55, 0.80), (0.56, 1.05), (0.57, 0.40), (0.58, 0.17), (0.58, 0.70),
    (0.59, 1.22), (0.60, 0.60), (0.61, 0.27), (0.61, 0.88), (0.62, 1.00), (0.63, 0.48),
    (0.64, 0.15), (0.64, 0.75), (0.65, 1.10), (0.66, 0.36), (0.67, 0.64), (0.68, 0.98),
    (0.69, 0.20), (0.70, 0.52), (0.71, 0.80), (0.72, 1.25), (0.73, 0.30), (0.74, 0.66),
    (0.76, 1.04), (0.77, 0.44), (0.78, 0.18), (0.79, 0.76), (0.81, 0.55), (0.82, 1.12),
    (0.84, 0.28), (0.85, 0.68), (0.86, 0.96), (0.88, 0.40), (0.90, 0.74), (0.92, 0.52),
    (0.93, 1.05), (0.95, 0.22), (0.96, 0.66), (0.98, 0.38), (1.00, 0.90), (1.02, 0.46),
    (1.05, 0.70), (1.08, 0.18),
]

core_right4 = [
    (0.155, 0.43), (0.195, 0.39), (0.235, 0.47), (0.275, 0.41), (0.315, 0.50), (0.355, 0.43),
    (0.395, 0.40), (0.435, 0.52), (0.475, 0.46), (0.515, 0.43), (0.555, 0.50), (0.165, 0.55),
    (0.205, 0.62), (0.245, 0.57), (0.285, 0.65), (0.325, 0.60), (0.365, 0.55), (0.405, 0.63),
    (0.445, 0.57), (0.485, 0.64), (0.525, 0.60), (0.575, 0.66), (0.185, 0.70), (0.225, 0.74),
    (0.265, 0.71), (0.305, 0.78), (0.345, 0.73), (0.385, 0.70), (0.425, 0.76), (0.465, 0.80),
    (0.505, 0.73), (0.555, 0.78), (0.195, 0.85), (0.235, 0.80), (0.275, 0.86), (0.315, 0.84),
    (0.355, 0.92), (0.395, 0.86), (0.435, 0.83), (0.475, 0.90), (0.525, 0.84), (0.215, 0.99),
    (0.255, 0.94), (0.295, 1.00), (0.345, 0.97), (0.385, 1.03), (0.425, 0.97), (0.465, 1.01),
    (0.525, 0.99), (0.235, 1.09), (0.275, 1.05), (0.325, 1.12), (0.365, 1.06), (0.405, 1.16),
    (0.445, 1.08), (0.495, 1.11), (0.275, 1.19), (0.315, 1.15), (0.355, 1.24), (0.405, 1.20),
    (0.445, 1.26), (0.485, 1.23), (0.535, 1.18), (0.335, 1.30), (0.385, 1.28), (0.425, 1.35),
    (0.465, 1.29), (0.515, 1.31),
]

# genes drawn with a black ring
ringed = [
    (-2.69, 4.01), (-2.14, 4.00), (-1.70, 3.49), (-1.63, 3.49), (-1.26, 3.33), (-1.20, 3.24),
    (-2.11, 3.25), (-2.06, 3.24), (-1.95, 3.19), (-1.57, 2.96), (-1.52, 2.94), (-1.94, 2.84),
    (-1.36, 2.79), (-1.01, 2.82), (-0.965, 2.81), (-0.72, 2.66), (-1.58, 2.48), (-1.44, 2.48),
    (-0.99, 2.48), (-1.21, 2.21), (-1.24, 2.10), (-0.72, 1.95), (-0.68, 1.92), (-1.01, 1.79),
    (-1.45, 1.69), (-0.56, 1.53), (0.72, 1.70),
]

# flagellum secretion genes
genes = ['flhB', 'fliF', 'fliQ', 'fliO', 'fliH', 'fliJ', 'flhA', 'fliR']
gene_fc = [-1.63, -1.01, -0.965, -0.72, -0.72, -0.48, -0.56, -0.29]
gene_p = [3.49, 2.82, 2.81, 2.66, 1.95, 1.81, 1.53, 0.30]

# label offsets in points and alignment
label_off = [(-7, 9), (-2, 0), (8, 0), (-6, 0), (-4, 0), (-5, 0), (-2, 0), (-9, 0)]
label_ha = ['right', 'right', 'left', 'right', 'right', 'right', 'right', 'right']

orange = '#FFA500'
DPI = 100

all_pts = np.array(left_sparse + right_sparse + core_left + core_left2 + core_left3 + core_left4
                   + core_right + core_right2 + core_right3 + core_right4)
ring = np.array(ringed)

fig = plt.figure(figsize=(1150 / DPI, 807 / DPI), dpi=DPI)
ax = fig.add_axes([113 / 1150, 109 / 807, 1036 / 1150, 616 / 807])

ax.scatter(all_pts[:, 0], all_pts[:, 1], s=5, marker='s', c='black', linewidths=0,
           antialiased=False)
ax.scatter(ring[:, 0], ring[:, 1], s=95, facecolors='none', edgecolors='black', linewidths=1.2)
ax.scatter(gene_fc, gene_p, s=330, facecolors='none', edgecolors=orange, linewidths=1.2)

for g, fx, py, off, ha in zip(genes, gene_fc, gene_p, label_off, label_ha):
    ax.annotate(g, (fx, py), xytext=off, textcoords='offset points', ha=ha, va='center',
                color=orange, fontsize=13, family='DejaVu Sans')

ax.axvline(-0.5, color='#00DD00', lw=1.3)
ax.axvline(0.5, color='red', lw=1.3)
ax.axhline(2, color='#AAAAAA', lw=1.5)
ax.axhline(-np.log10(0.05), color='#AAAAAA', lw=1.5)

ax.text(-2.01, 4.50, 'L2FC=-0.5', color='#00DD00', fontsize=9.5, ha='center', va='center',
        family='Liberation Sans')
ax.text(1.99, 4.50, 'L2FCh=0.5', color='red', fontsize=9.5, ha='center', va='center',
        family='Liberation Sans')
ax.text(1.98, 2.02, 'Adpval =0.01', color='#555555', fontsize=9.5, ha='center', va='bottom',
        family='Liberation Sans')
ax.text(1.98, 1.32, 'Adpvalue=0.05', color='#555555', fontsize=9.5, ha='center', va='bottom',
        family='Liberation Sans')

ax.set_xlim(-4.323, 4.032)
ax.set_ylim(-0.175, 4.724)
ax.set_xticks([-4, -2, 0, 2, 4])
ax.set_yticks([0, 1, 2, 3, 4])
ax.tick_params(length=6, width=1, labelsize=12.5, direction='out')
ax.tick_params(axis='x', pad=14)
ax.tick_params(axis='y', pad=7)
for lab in ax.get_xticklabels() + ax.get_yticklabels():
    lab.set_family('Liberation Sans')
for sp in ax.spines.values():
    sp.set_linewidth(1)

ax.set_xlabel('log2FC', fontsize=16, family='Liberation Sans', labelpad=32)
ax.set_ylabel('ajusted p value', fontsize=16, family='Liberation Sans', labelpad=38)

fig.text(634 / 1150, 1 - 25 / 807, 'Volcanoplot: Cann_vs_Temoin - Log2 fold change <=-0.5 or >=0.5',
         ha='center', va='center', fontsize=19.5, fontweight='bold', family='Liberation Sans')
fig.text(583 / 1150, 1 - 59 / 807, 'Flagellum secretion', ha='center', va='center',
         fontsize=17, color=orange, family='DejaVu Sans')

plt.savefig('out.png', dpi=DPI)
